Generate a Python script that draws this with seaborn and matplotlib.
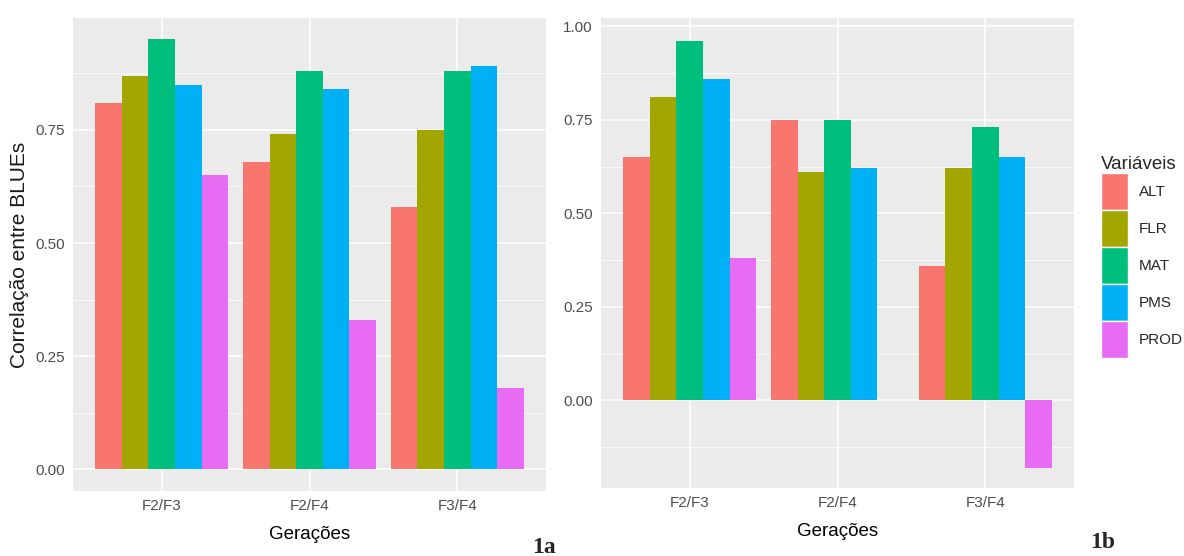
import numpy as np
import pandas as pd
import seaborn as sns
import matplotlib
matplotlib.use("Agg")
import matplotlib.pyplot as plt
from matplotlib.patches import Patch

geracoes = ["F2/F3", "F2/F4", "F3/F4"]
variaveis = ["ALT", "FLR", "MAT", "PMS", "PROD"]

# Panel 1a values (rows: generation pairs, columns: variables)
vals_a = {
    "ALT":  [0.81, 0.68, 0.58],
    "FLR":  [0.87, 0.74, 0.75],
    "MAT":  [0.95, 0.88, 0.88],
    "PMS":  [0.85, 0.84, 0.89],
    "PROD": [0.65, 0.33, 0.18],
}
# Panel 1b values
vals_b = {
    "ALT":  [0.65, 0.75, 0.36],
    "FLR":  [0.81, 0.61, 0.62],
    "MAT":  [0.96, 0.75, 0.73],
    "PMS":  [0.86, 0.62, 0.65],
    "PROD": [0.38, np.nan, -0.18],
}

colors = ["#F8766D", "#A3A500", "#00BF7D", "#00B0F6", "#E76BF3"]

def to_long(d):
    rows = []
    for v in variaveis:
        for g, val in zip(geracoes, d[v]):
            rows.append({"Gerações": g, "Variáveis": v, "valor": val})
    return pd.DataFrame(rows)

df_a = to_long(vals_a)
df_b = to_long(vals_b)

sns.set_theme(style="darkgrid")
fam = ["Liberation Sans", "DejaVu Sans"]
plt.rcParams["font.family"] = fam

fig = plt.figure(figsize=(11.84, 5.56), dpi=100)
fig.patch.set_facecolor("white")
ax_a = fig.add_axes([73/1184, 1-491/556, 473/1184, 473/556])
ax_b = fig.add_axes([601/1184, 1-488/556, 473/1184, 470/556])

def style(ax, ylim, yticks):
    ax.set_facecolor("#EBEBEB")
    ax.set_xlim(-0.6, 2.6)
    ax.set_ylim(*ylim)
    ax.set_yticks(yticks)
    ax.set_yticklabels([f"{t:.2f}" for t in yticks])
    minors = [(yticks[i] + yticks[i+1]) / 2 for i in range(len(yticks)-1)]
    lo = yticks[0] - (yticks[1]-yticks[0])/2
    hi = yticks[-1] + (yticks[1]-yticks[0])/2
    if lo > ylim[0]:
        minors = [lo] + minors
    if hi < ylim[1]:
        minors = minors + [hi]
    ax.set_yticks(minors, minor=True)
    ax.grid(which="major", color="white", linewidth=1.1)
    ax.grid(which="minor", axis="y", color="white", linewidth=0.55)
    ax.set_axisbelow(True)
    for s in ax.spines.values():
        s.set_visible(False)
    ax.tick_params(axis="both", which="major", length=3.5, width=0.8, color="#333333",
                   labelcolor="#4D4D4D", labelsize=11, pad=2.5)
    ax.tick_params(axis="both", which="minor", length=0)
    ax.set_xlabel("Gerações", fontsize=13.5, color="black", labelpad=9)

sns.barplot(data=df_a, x="Gerações", y="valor", hue="Variáveis", hue_order=variaveis,
            order=geracoes, palette=colors, width=0.9, saturation=1, legend=False,
            ax=ax_a, edgecolor="none", linewidth=0)
sns.barplot(data=df_b, x="Gerações", y="valor", hue="Variáveis", hue_order=variaveis,
            order=geracoes, palette=colors, width=0.9, saturation=1, legend=False,
            ax=ax_b, edgecolor="none", linewidth=0)

style(ax_a, (-0.0475, 0.997), [0.0, 0.25, 0.5, 0.75])
style(ax_b, (-0.234, 1.022), [0.0, 0.25, 0.5, 0.75, 1.0])
ax_a.set_ylabel("Correlação entre BLUEs", fontsize=15, color="#1A1A1A", labelpad=4)
ax_b.set_ylabel("")

handles = [Patch(facecolor=c, edgecolor="white", linewidth=1.0, label=v) for c, v in zip(colors, variaveis)]
leg = fig.legend(handles=handles, title="Variáveis", loc="upper left",
                 bbox_to_anchor=(1095/1184, 1-150/556), frameon=False,
                 fontsize=11, title_fontsize=13.5, handlelength=1.75, handleheight=3.35,
                 labelspacing=0.0, handletextpad=0.7, borderaxespad=0)
leg._legend_box.align = "left"
leg._legend_box._children[0].sep = 10  # gap below title (approximate)

fig.text(532/1184, 1-553/556, "1a", fontsize=17, fontweight="bold",
         family=["Liberation Serif", "DejaVu Serif"], ha="left", va="baseline")
fig.text(1090/1184, 1-548/556, "1b", fontsize=17, fontweight="bold",
         family=["Liberation Serif", "DejaVu Serif"], ha="left", va="baseline")

fig.savefig("out.png", dpi=100, facecolor="white")
